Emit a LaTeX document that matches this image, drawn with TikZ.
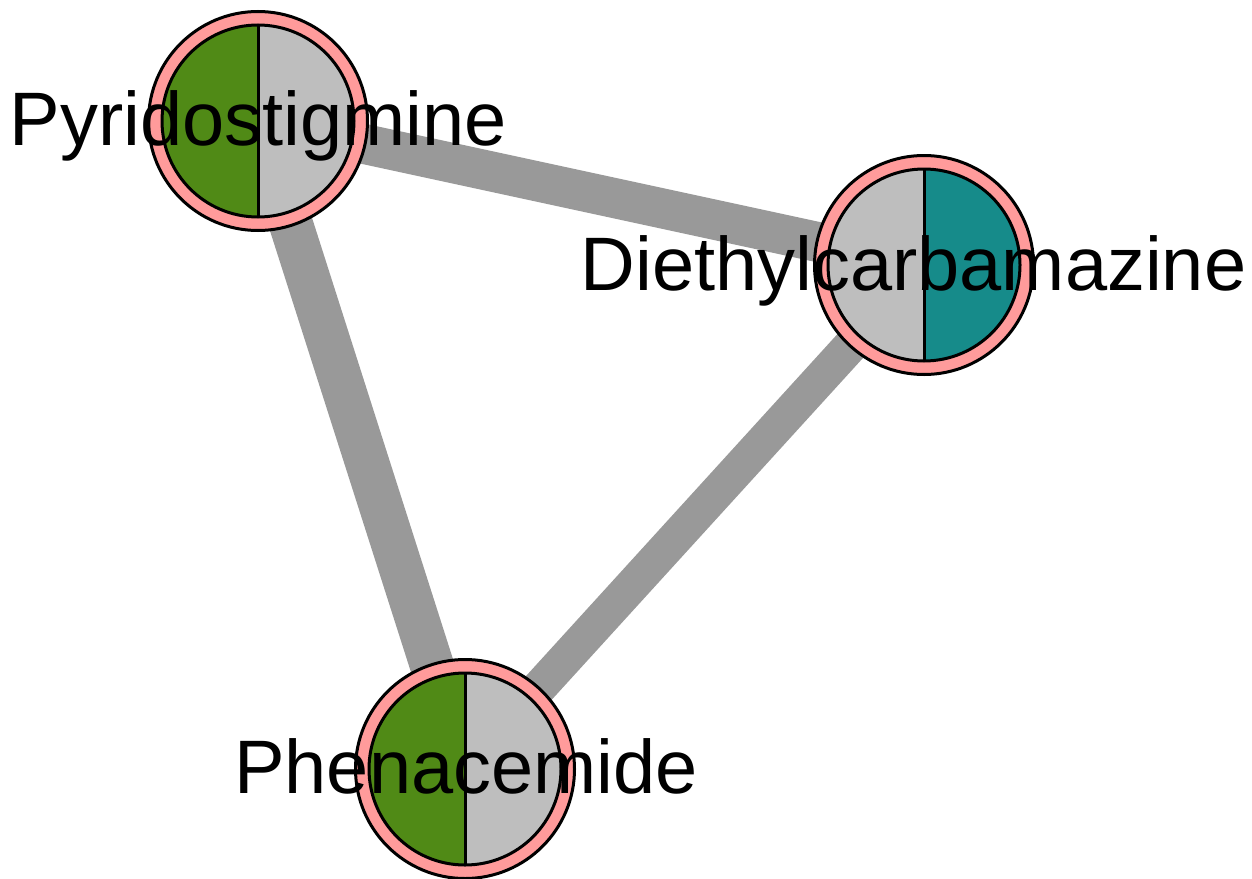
\documentclass[tikz,border=0pt]{standalone}
\usepackage{fontspec}
\setmainfont{Liberation Sans}
\usetikzlibrary{calc}
\definecolor{dgreen}{RGB}{80,138,22}
\definecolor{dteal}{RGB}{22,139,138}
\definecolor{lgray}{RGB}{190,190,190}
\definecolor{ringpink}{RGB}{255,155,155}
\definecolor{edgegray}{RGB}{153,153,153}
\begin{document}
\begin{tikzpicture}[x=1pt,y=-1pt,
  edge/.style={draw=edgegray},
  ring/.style={circle,draw=black,fill=ringpink,line width=3pt,minimum size=219pt,inner sep=0pt},
  lbl/.style={font=\fontsize{75.8}{80}\selectfont,anchor=base,inner sep=0pt,text=black}]
\useasboundingbox (0,0) rectangle (1252,878);
\coordinate (pyr) at (258,121);
\coordinate (die) at (924,265);
\coordinate (phe) at (465,769);
% edges
\draw[edge,line width=40pt] (pyr) -- (die);
\draw[edge,line width=44pt] (pyr) -- (phe);
\draw[edge,line width=35pt] (die) -- (phe);
% nodes
\foreach \c/\lc/\rc in {pyr/dgreen/lgray, die/lgray/dteal, phe/dgreen/lgray}{
  \node[ring] (\c ring) at (\c) {};
  \begin{scope}
    \clip (\c) circle (96);
    \fill[\lc] ($(\c)+(-100,-100)$) rectangle ($(\c)+(0,100)$);
    \fill[\rc] ($(\c)+(0,-100)$) rectangle ($(\c)+(100,100)$);
  \end{scope}
  \draw[line width=3pt] (\c) circle (96);
  \draw[line width=3pt] ($(\c)+(0,-96)$) -- ($(\c)+(0,96)$);
}
% labels
\node[lbl] (pyrlabel) at (258.5,145) {Pyridostigmine};
\node[lbl] (dielabel) at (913.5,290) {Diethylcarbamazine};
\node[lbl] (phelabel) at (466,793) {Phenacemide};
\end{tikzpicture}
\end{document}
